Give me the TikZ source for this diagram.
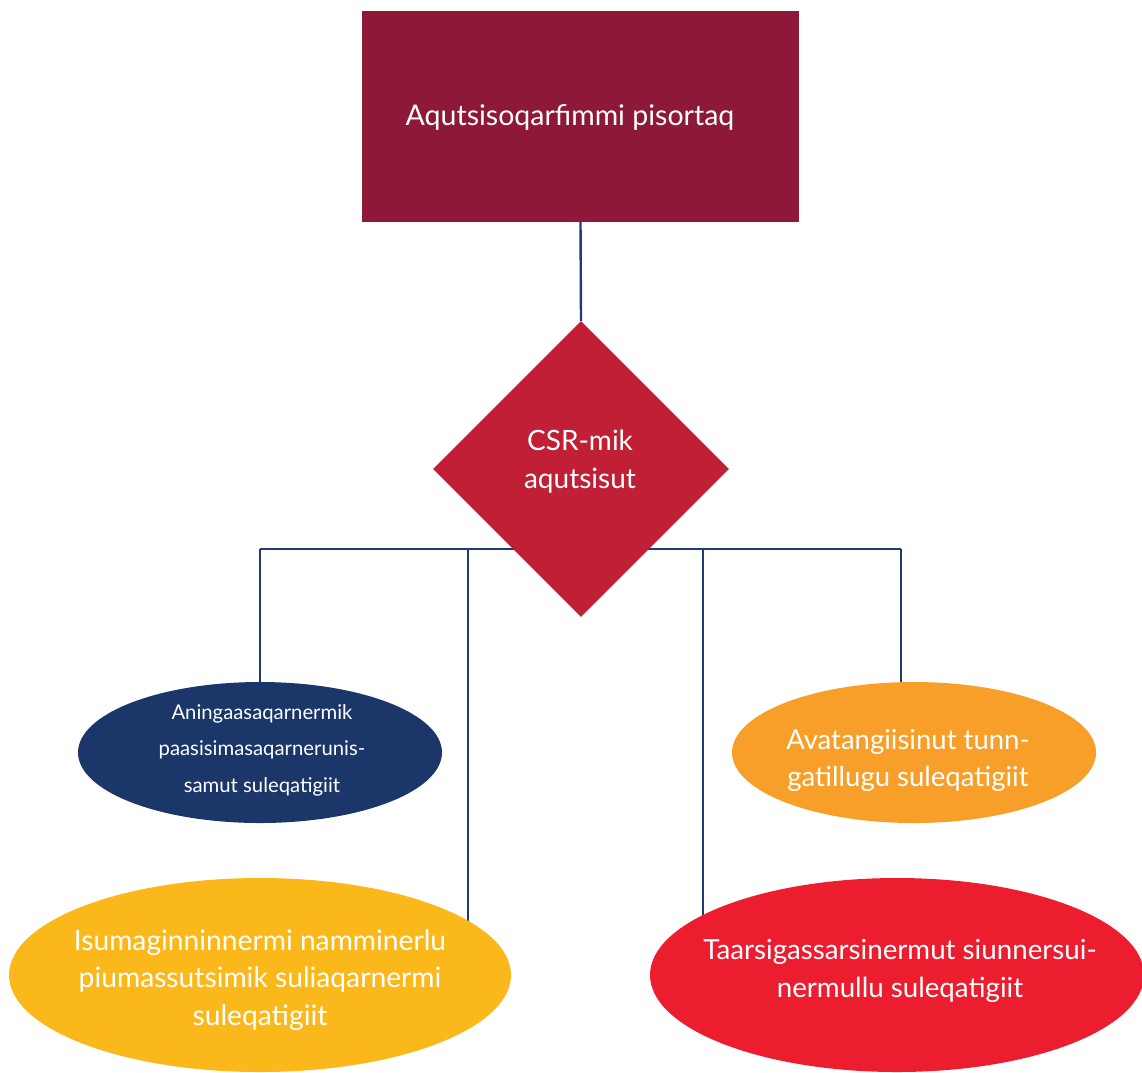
\documentclass[tikz,border=0pt]{standalone}
\usepackage{fontspec}
\setmainfont{Lato}
\usetikzlibrary{shapes.geometric,backgrounds}
\definecolor{maroon}{HTML}{8E1838}
\definecolor{crimson}{HTML}{C01F35}
\definecolor{navyc}{HTML}{1B3668}
\definecolor{orangec}{HTML}{F79F28}
\definecolor{yellowc}{HTML}{FBB81A}
\definecolor{redc}{HTML}{EC1D2F}
\definecolor{linec}{HTML}{1F3B73}
\begin{document}
\begin{tikzpicture}[x=1pt,y=-1pt,
  conn/.style={draw=linec,line width=2.4pt},
  blob/.style={ellipse,inner sep=0pt,draw=none},
  txt/.style={text=white,align=center,inner sep=0pt}]
\useasboundingbox (0,0) rectangle (1142,1072);
\clip (0,0) rectangle (1142,1072);
% shapes
\node[rectangle,fill=maroon,minimum width=437pt,minimum height=211pt,inner sep=0pt] (top) at (580.5,116.5) {};
\node[diamond,aspect=1,fill=crimson,minimum width=296pt,minimum height=296pt,inner sep=0pt] (dia) at (581,469) {};
\node[blob,fill=navyc,minimum width=364pt,minimum height=141pt] (navy) at (260,752.5) {};
\node[blob,fill=orangec,minimum width=364pt,minimum height=141pt] (orange) at (914,752.5) {};
\node[blob,fill=yellowc,minimum width=502pt,minimum height=194pt] (yellow) at (260,975) {};
\node[blob,fill=redc,minimum width=494pt,minimum height=194pt] (red) at (897,975) {};
% connectors
\coordinate (busL) at (260,549);
\coordinate (busA) at (468,549);
\coordinate (busB) at (703,549);
\coordinate (busR) at (901,549);
\begin{scope}[on background layer]
\draw[conn] (top.south) -- (dia.north);
\draw[conn] (busL) -- (busR);
\draw[conn] (busL) -- (navy.north);
\draw[conn] (busR) -- (busR |- orange.north);
\draw[conn] (busA) -- (busA |- yellow.center);
\draw[conn] (busB) -- (busB |- red.center);
\end{scope}
% texts
\node[txt,font=\fontsize{28.5}{31}\selectfont] (ttop) at (570,117) {Aqutsisoqarfimmi pisortaq};
\node[txt,font=\fontsize{28}{38}\selectfont] (tdia) at (580,462) {CSR-mik\\aqutsisut};
\node[txt,font=\fontsize{20.3}{36.5}\selectfont] (tnavy) at (262,750) {Aningaasaqarnermik\\paasisimasaqarnerunis-\\samut suleqatigiit};
\node[txt,font=\fontsize{27.5}{37}\selectfont] (torange) at (908,760) {Avatangiisinut tunn-\\gatillugu suleqatigiit};
\node[txt,font=\fontsize{28.2}{37.5}\selectfont] (tyellow) at (260,980) {Isumaginninnermi namminerlu\\piumassutsimik suliaqarnermi\\suleqatigiit};
\node[txt,font=\fontsize{27.7}{38}\selectfont] (tred) at (900,971) {Taarsigassarsinermut siunnersui-\\nermullu suleqatigiit};
\end{tikzpicture}
\end{document}
